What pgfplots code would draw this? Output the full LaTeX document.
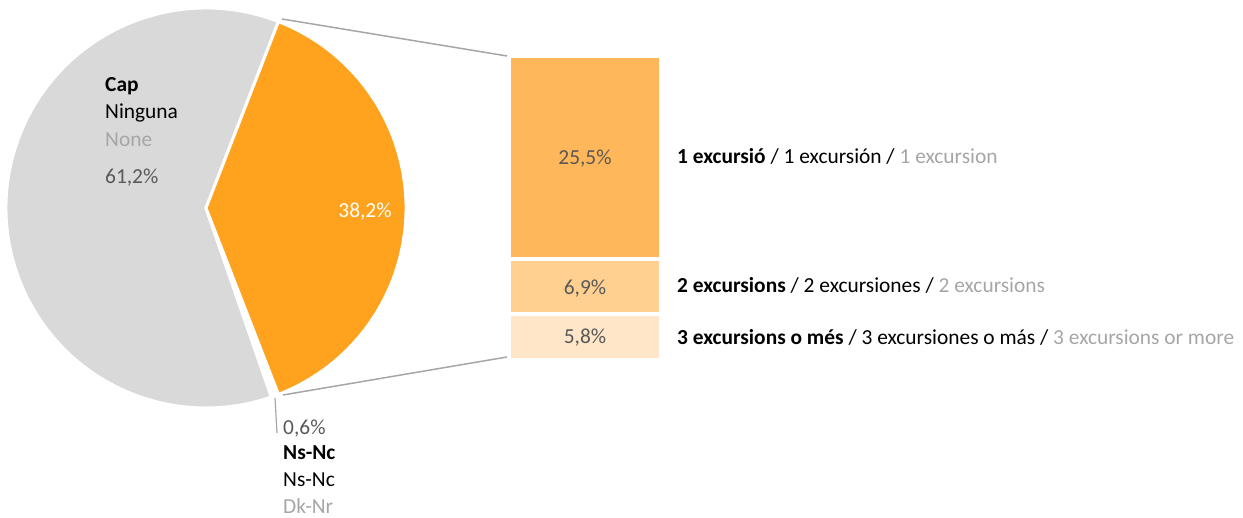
\documentclass[border=0pt]{standalone}
\usepackage{pgfplots}
\pgfplotsset{compat=1.18}
\usepackage{fontspec}
\setmainfont{Carlito}
\definecolor{pieorange}{HTML}{FFA21D}
\definecolor{piegrey}{HTML}{D9D9D9}
\definecolor{barA}{HTML}{FFB75A}
\definecolor{barB}{HTML}{FFD08F}
\definecolor{barC}{HTML}{FFE6C8}
\definecolor{lgrey}{HTML}{A6A6A6}
\definecolor{dgrey}{HTML}{595959}
\definecolor{linegrey}{HTML}{A6A6A6}
% pie data (%)
\def\pOrange{38.2}
\def\pSmall{0.6}
\def\pGrey{61.2}
\begin{document}
\begin{tikzpicture}[every node/.style={inner sep=0pt, text height=0.644em, text depth=0pt, font=\fontsize{21.4}{26}\selectfont}]
\pgfmathsetmacro{\aHalf}{\pOrange*3.6/2}
\pgfmathsetmacro{\aSmall}{-\aHalf-\pSmall*3.6}
\pgfmathsetmacro{\aGreyEnd}{360-\aHalf-\pSmall*3.6}
% breakdown bar of the 38,2%
\begin{axis}[at={(509pt,158pt)}, anchor=south west, scale only axis, width=152pt, height=304pt,
  xmin=-0.5, xmax=0.5, ymin=0, ymax=38.2, hide axis, clip=false,
  ybar stacked, bar width=152pt, bar shift=0pt]
  \addplot[fill=barC, draw=white, line width=4pt] coordinates {(0,5.8)};
  \addplot[fill=barB, draw=white, line width=4pt] coordinates {(0,6.9)};
  \addplot[fill=barA, draw=white, line width=4pt] coordinates {(0,25.5)};
\end{axis}
\begin{axis}[at={(0,0)}, anchor=south west, scale only axis, width=1243pt, height=518pt,
  xmin=0, xmax=1243, ymin=0, ymax=518, hide axis, clip=false]
  % pie
  \fill[piegrey, draw=white, line width=3pt] (axis cs:206,310) -- ++(\aHalf:200pt) arc[start angle=\aHalf, end angle=\aGreyEnd, radius=200pt] -- cycle;
  \fill[white, draw=white, line width=3pt] (axis cs:206,310) -- ++(\aSmall:200pt) arc[start angle=\aSmall, end angle=-\aHalf, radius=200pt] -- cycle;
  \fill[pieorange, draw=white, line width=3pt] (axis cs:206,310) -- ++(-\aHalf:200pt) arc[start angle=-\aHalf, end angle=\aHalf, radius=200pt] -- cycle;
  % connector lines
  \draw[linegrey, line width=1.5pt] (axis cs:282,499) -- (axis cs:507,462);
  \draw[linegrey, line width=1.5pt] (axis cs:283,123) -- (axis cs:507,161);
  \draw[linegrey, line width=1.2pt] (axis cs:275,120) -- (axis cs:277,85);
  % pie labels
  \node[anchor=west] at (axis cs:105,430) {\textbf{Cap}};
  \node[anchor=west] at (axis cs:105,403) {Ninguna};
  \node[anchor=west, text=lgrey] at (axis cs:105,375) {None};
  \node[anchor=west, text=dgrey] at (axis cs:105,338) {61,2\%};
  \node[anchor=center, text=white] at (axis cs:365,304) {38,2\%};
  \node[anchor=west, text=dgrey] at (axis cs:283,87) {0,6\%};
  \node[anchor=west] at (axis cs:283,62) {\textbf{Ns-Nc}};
  \node[anchor=west] at (axis cs:283,35) {Ns-Nc};
  \node[anchor=west, text=lgrey] at (axis cs:283,8) {Dk-Nr};
  % bar value labels
  \node[anchor=center, text=dgrey] at (axis cs:585,357) {25,5\%};
  \node[anchor=center, text=dgrey] at (axis cs:585,227) {6,9\%};
  \node[anchor=center, text=dgrey] at (axis cs:585,178) {5,8\%};
  % bar category labels
  \node[anchor=west] at (axis cs:677,358) {\textbf{1 excursió} / 1 excursión / \textcolor{lgrey}{1 excursion}};
  \node[anchor=west] at (axis cs:677,229) {\textbf{2 excursions} / 2 excursiones / \textcolor{lgrey}{2 excursions}};
  \node[anchor=west] at (axis cs:677,177) {\textbf{3 excursions o més} / 3 excursiones o más / \textcolor{lgrey}{3 excursions or more}};
\end{axis}
\pgfresetboundingbox
\path[use as bounding box] (0,0) rectangle (1243pt,518pt);
\end{tikzpicture}
\end{document}
